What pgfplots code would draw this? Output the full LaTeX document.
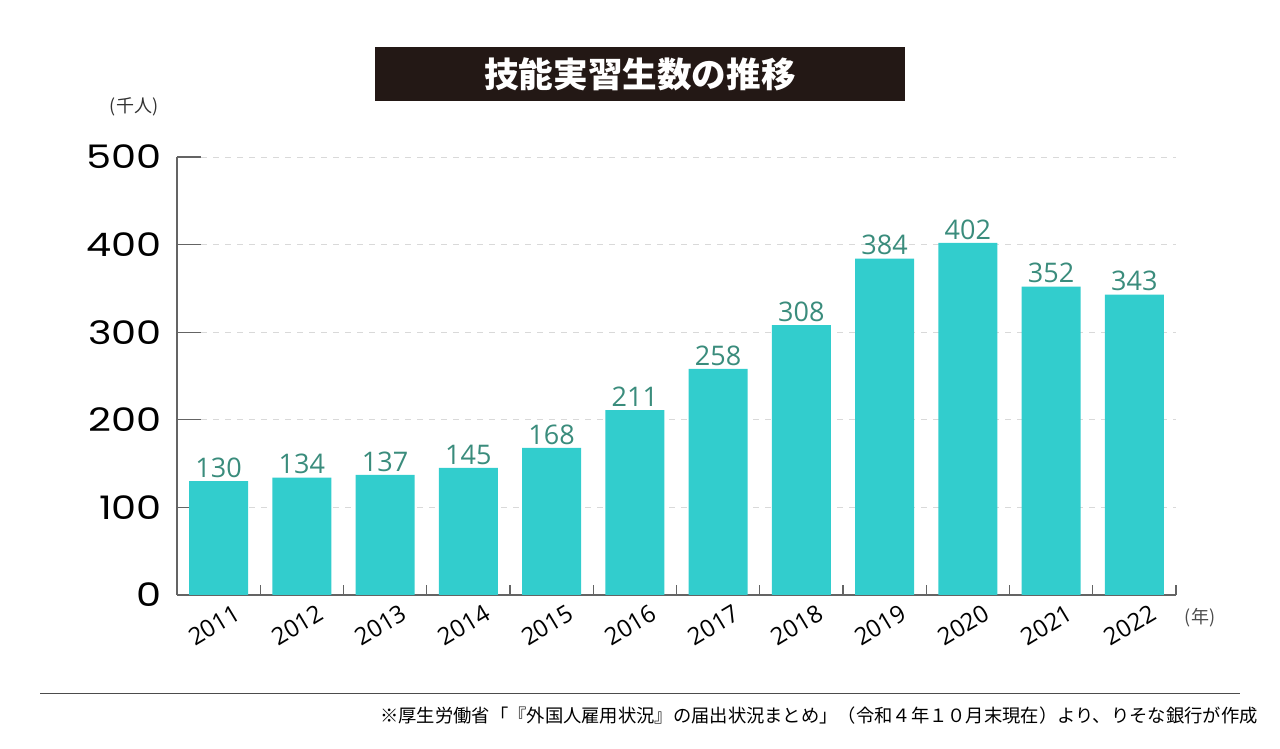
\documentclass[border=0pt]{standalone}
\usepackage{fontspec}
\usepackage{pgfplots}
\pgfplotsset{compat=1.18}
\setmainfont{Open Sans}
\newfontfamily\cjk{Noto Sans CJK JP}
\newfontfamily\pop[FakeStretch=1.23]{Poppins}
\definecolor{barc}{RGB}{50,205,205}
\definecolor{valc}{RGB}{58,140,124}
\definecolor{titlebg}{RGB}{35,24,21}
\definecolor{axc}{RGB}{100,100,100}
\begin{document}
\begin{tikzpicture}
\path[use as bounding box] (0,0) rectangle (640pt,374.5pt);
\fill[titlebg] (187.5pt,351pt) rectangle (452.5pt,324pt);
\node[text=white,font=\cjk\bfseries\fontsize{17.3}{17.3}\selectfont] at (320pt,337.5pt) {技能実習生数の推移};
\node[text=black!80,font=\cjk\fontsize{9}{9}\selectfont] at (67pt,321pt) {(千人)};
\node[text=black!70,font=\cjk\fontsize{9}{9}\selectfont] at (600pt,65.5pt) {(年)};
\draw[black!70,line width=0.5pt] (20pt,27.5pt) -- (620pt,27.5pt);
\node[anchor=east,text=black,font=\cjk\fontsize{9.15}{10}\selectfont,inner sep=0pt] at (629pt,16.5pt) {※厚生労働省「『外国人雇用状況』の届出状況まとめ」（令和４年１０月末現在）より、りそな銀行が作成};
\begin{axis}[
  at={(88.5pt,77pt)}, anchor=south west,
  scale only axis, width=499.5pt, height=219pt,
  xmin=-0.5, xmax=11.5, ymin=0, ymax=500,
  axis x line=bottom, axis y line=left,
  axis line style={-, axc, line width=0.6pt},
  tick align=inside,
  xtick align=inside,
  major tick length=12pt,
  ytick={0,100,...,500},
  ytick style={axc, line width=0.6pt},
  yticklabel style={font=\pop\fontsize{16.2}{16.2}\selectfont, text=black, xshift=-4pt},
  /pgf/number format/assume math mode=true,
  ymajorgrids, grid style={dashed, black!15, line width=0.5pt},
  xtick={0,...,11},
  xticklabels={2011,2012,2013,2014,2015,2016,2017,2018,2019,2020,2021,2022},
  xtick style={draw=none},
  xticklabel style={font=\fontsize{12}{12}\selectfont, text=black, xshift=8pt, yshift=11pt, inner sep=2pt, rotate=31, anchor=north east},
  extra x ticks={0.5,1.5,...,11.5},
  extra x tick labels={},
  extra x tick style={xtick align=inside, major tick length=5pt, xtick style={draw=axc, line width=0.6pt}, grid=none},
  ybar, bar width=29.5pt,
  nodes near coords,
  every node near coord/.append style={font=\fontsize{13.5}{13.5}\selectfont, text=valc, inner sep=1.5pt},
]
\addplot[fill=barc, draw=none] coordinates {
(0,130) (1,134) (2,137) (3,145) (4,168) (5,211) (6,258) (7,308) (8,384) (9,402) (10,352) (11,343)
};
\end{axis}
\end{tikzpicture}
\end{document}
